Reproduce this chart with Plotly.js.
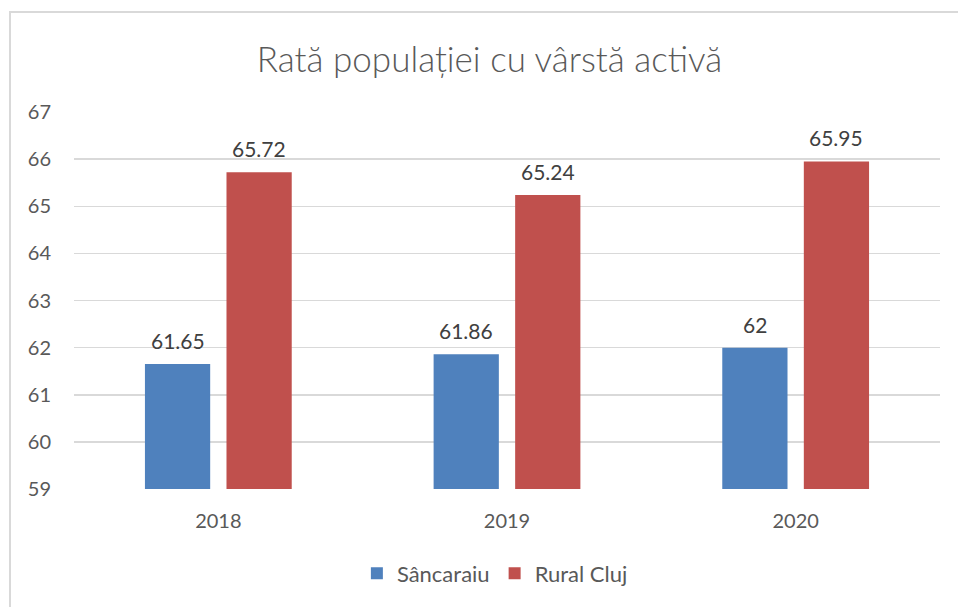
<!DOCTYPE html>
<html>
<head>
<meta charset="utf-8">
<script src="https://cdn.plot.ly/plotly-3.0.1.min.js"></script>
<style>
html,body{margin:0;padding:0;background:#fff;}
#wrap{position:relative;width:958px;height:607px;overflow:hidden;}
#chart{position:absolute;left:0;top:0;width:958px;height:607px;}
#border{position:absolute;left:9px;top:11px;width:960px;height:610px;border:2px solid #d9d9d9;pointer-events:none;}
</style>
</head>
<body>
<div id="wrap"><div id="chart"></div><div id="border"></div></div>
<script>
const categories = ['2018', '2019', '2020'];
const sancaraiu = [61.65, 61.86, 62];
const ruralCluj = [65.72, 65.24, 65.95];
const seriesNames = ['Sâncaraiu', 'Rural Cluj'];
const colors = ['#4f81bd', '#c0504d'];

const font = 'Lato, "Open Sans", sans-serif';
const baseVal = 59;
const W = 958, H = 607;
const margin = {l:74, r:18, t:112, b:115};
const bargap = 0.435;

const series = [sancaraiu, ruralCluj];
const traces = series.map((vals, i) => ({
  type:'bar', name:seriesNames[i], x:categories,
  y:vals.map(v => v - baseVal), base:baseVal,
  marker:{color:colors[i]}, hoverinfo:'skip'
}));

// data labels as annotations above each bar (x = category index on the category axis)
const plotW = W - margin.l - margin.r;
const slot = plotW / categories.length * (1 - bargap) / 2;
const annotations = [];
series.forEach((vals, i) => {
  vals.forEach((v, j) => {
    annotations.push({
      x:j, y:v, xref:'x', yref:'y', text:String(v), showarrow:false,
      xanchor:'center', yanchor:'bottom', xshift:(i === 0 ? -1 : 1) * slot / 2, yshift:9,
      font:{family:font, size:21, color:'#404040'}
    });
  });
});

const layout = {
  width:W, height:H, margin:margin,
  paper_bgcolor:'#fff', plot_bgcolor:'#fff',
  font:{family:font, color:'#595959'},
  title:{text:'Rată populației cu vârstă activă', font:{family:font, size:35, color:'#595959', weight:300},
         x:0.511, xanchor:'center', y:0.901, yanchor:'middle'},
  barmode:'group', bargap:bargap, bargroupgap:0.2,
  xaxis:{type:'category', categoryorder:'array', categoryarray:categories,
         showgrid:false, showline:false, zeroline:false, ticks:'',
         tickfont:{family:font, size:20, color:'#595959'}, ticklabelstandoff:18},
  yaxis:{range:[59,67], dtick:1, tick0:59, showgrid:true, gridcolor:'#d9d9d9', gridwidth:1.5,
         zeroline:false, showline:false, ticks:'', tickfont:{family:font, size:20, color:'#595959'},
         ticklabelstandoff:22},
  annotations:annotations,
  showlegend:true,
  legend:{orientation:'h', x:0.486, xanchor:'center', y:-0.224, yanchor:'middle',
          font:{family:font, size:22, color:'#595959'}, traceorder:'normal', itemwidth:30}
};
Plotly.newPlot('chart', traces, layout, {displayModeBar:false, staticPlot:true});
</script>
</body>
</html>
